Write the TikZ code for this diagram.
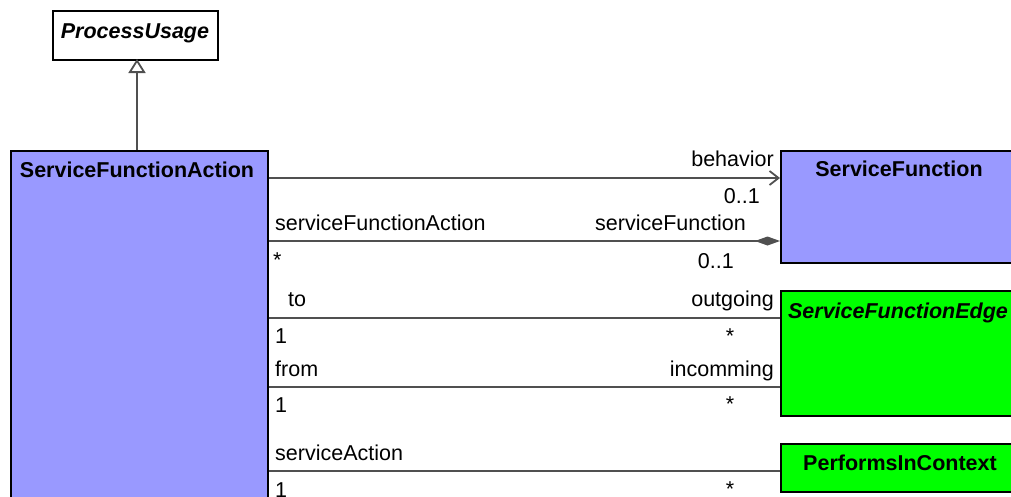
\documentclass[tikz,border=0pt]{standalone}
\usepackage{fontspec}
\setmainfont{Liberation Sans}
\usetikzlibrary{arrows.meta}
\definecolor{umlblue}{HTML}{9999FF}
\definecolor{umlgreen}{HTML}{00FF00}
\definecolor{linegray}{HTML}{505050}
\begin{document}
\begin{tikzpicture}[x=1pt,y=-1pt,
  font=\fontsize{21.5}{24}\selectfont,
  classbox/.style={draw=black, line width=1.8pt, inner sep=0pt, anchor=north west},
  classtitle/.style={anchor=base, inner sep=0pt, font=\fontsize{21.5}{24}\selectfont\bfseries},
  conn/.style={draw=linegray, line width=1.8pt},
  lbl/.style={inner sep=0pt}]
\useasboundingbox (0,0) rectangle (1011,496);
\clip (0,0) rectangle (1011,496);
\fill[white] (0,0) rectangle (1011,496);

% boxes
\node[classbox, fill=white, minimum width=165pt, minimum height=49pt] (pu) at (52,10) {};
\node[classbox, fill=umlblue, minimum width=257pt, minimum height=380pt] (sfa) at (10,150) {};
\node[classbox, fill=umlblue, minimum width=239pt, minimum height=112pt] (sf) at (780,150) {};
\node[classbox, fill=umlgreen, minimum width=239pt, minimum height=125pt] (sfe) at (780,290) {};
\node[classbox, fill=umlgreen, minimum width=239pt, minimum height=48pt] (pic) at (780,443) {};

% titles
\node[classtitle, font=\fontsize{21.5}{24}\selectfont\bfseries\itshape] (put) at (135,38) {ProcessUsage};
\node[classtitle] (sfat) at (137,177) {ServiceFunctionAction};
\node[classtitle] (sft) at (899,176) {ServiceFunction};
\node[classtitle, font=\fontsize{21.5}{24}\selectfont\bfseries\itshape] (sfet) at (898,318) {ServiceFunctionEdge};
\node[classtitle] (pict) at (900,470) {PerformsInContext};

% connector levels
\coordinate (g0) at (137,150);
\coordinate (g1) at (137,59);
\coordinate (y1) at (0,178);
\coordinate (y2) at (0,241);
\coordinate (y3) at (0,318);
\coordinate (y4) at (0,387);
\coordinate (y5) at (0,471);

% generalization
\draw[conn, -{Triangle[open, fill=white, length=14pt, width=17pt]}] (g0) -- (g1);

% associations
\draw[conn, -{Straight Barb[length=9pt, width=14pt]}] (sfa.east |- y1) -- (sf.west |- y1);
\draw[conn, -{Diamond[length=25pt, width=9pt, fill=linegray]}] (sfa.east |- y2) -- (sf.west |- y2);
\draw[conn] (sfa.east |- y3) -- (sfe.west |- y3);
\draw[conn] (sfa.east |- y4) -- (sfe.west |- y4);
\draw[conn] (sfa.east |- y5) -- (pic.west |- y5);

% labels
\node[lbl, anchor=base east] (l1) at (774,166) {behavior};
\node[lbl, anchor=base east] (l2) at (760,203) {0..1};
\node[lbl, anchor=base west] (l3) at (275,230) {serviceFunctionAction};
\node[lbl, anchor=base east] (l4) at (746,230) {serviceFunction};
\node[lbl, anchor=base west] (l5) at (273,267) {*};
\node[lbl, anchor=base east] (l6) at (734,268) {0..1};
\node[lbl, anchor=base west] (l7) at (288,306) {to};
\node[lbl, anchor=base east] (l8) at (774,306) {outgoing};
\node[lbl, anchor=base west] (l9) at (275,343) {1};
\node[lbl, anchor=base] (l10) at (730,343) {*};
\node[lbl, anchor=base west] (l11) at (275,376) {from};
\node[lbl, anchor=base east] (l12) at (774,376) {incomming};
\node[lbl, anchor=base west] (l13) at (275,412) {1};
\node[lbl, anchor=base] (l14) at (730,411) {*};
\node[lbl, anchor=base west] (l15) at (275,460) {serviceAction};
\node[lbl, anchor=base west] (l16) at (275,497) {1};
\node[lbl, anchor=base] (l17) at (730,496) {*};
\end{tikzpicture}
\end{document}
